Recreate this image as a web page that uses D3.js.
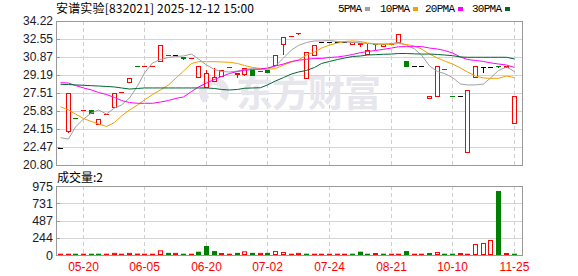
<!DOCTYPE html>
<html>
<head>
<meta charset="utf-8">
<script src="https://cdn.jsdelivr.net/npm/d3@7"></script>
<style>
  html, body { margin: 0; padding: 0; background: #fff; }
  svg { display: block; }
</style>
</head>
<body>
<svg id="chart"></svg>
<script>
const title = '安谱实验[832021] 2025-12-12 15:00';
const volTitle = '成交量:2';

// daily K data
const opens  = [22.41,23.90,25.16,25.92,25.93,24.59,25.51,26.18,27.62,28.60,
                30.01,29.99,29.99,30.52,31.07,31.08,30.84,30.79,29.07,28.04,
                28.63,29.07,29.89,29.22,29.22,29.70,29.59,29.65,30.12,32.05,
                32.81,32.98,28.97,31.05,32.29,32.29,32.29,32.29,32.05,32.05,
                31.12,32.12,31.89,32.07,32.24,30.49,30.03,30.03,27.03,27.20,
                29.73,27.21,27.20,21.98,28.97,29.97,29.97,29.98,29.90,24.69];
const highs  = [22.41,27.48,25.16,25.93,25.93,25.06,25.52,27.48,27.63,28.94,
                30.01,30.00,30.00,31.98,31.08,31.08,30.84,30.80,30.05,29.65,
                29.87,29.65,29.90,29.40,29.81,29.70,29.60,29.65,31.05,32.70,
                32.82,33.10,31.36,31.98,32.29,32.29,32.29,32.29,32.25,32.20,
                32.05,32.12,32.08,32.08,33.01,30.49,30.03,30.03,27.22,30.03,
                29.73,27.21,27.20,27.79,30.03,29.97,29.97,29.98,30.05,27.20];
const lows   = [22.41,23.90,25.15,25.92,25.62,24.59,25.51,26.18,27.62,28.60,
                30.00,29.99,29.99,30.52,31.07,31.08,30.68,30.79,29.07,28.04,
                28.63,29.07,29.89,29.03,29.22,29.25,29.59,29.44,30.12,31.14,
                32.81,32.98,28.97,31.05,32.29,32.29,32.29,32.29,32.05,31.89,
                31.12,31.58,31.89,32.07,32.24,30.06,30.03,30.03,27.03,27.20,
                29.72,27.20,27.20,21.98,28.97,29.49,29.97,29.97,29.90,24.69];
const closes = [22.41,27.48,25.15,25.93,25.62,25.06,25.52,27.48,27.63,28.94,
                30.00,30.00,30.00,31.98,31.08,31.08,30.68,30.80,30.05,29.35,
                28.97,29.65,29.90,29.40,29.81,29.25,29.60,29.44,31.05,32.70,
                32.82,33.10,31.36,31.98,32.29,32.29,32.29,32.29,32.25,32.20,
                31.52,32.08,32.08,32.08,33.01,30.06,30.03,30.03,27.22,30.03,
                29.72,27.20,27.20,27.79,30.03,29.97,29.97,29.97,30.05,27.20];

const volumes = [18,18,18,18,18,18,18,30,18,30, 20,18,18,66,30,30,18,18,47,127,
                 56,28,18,30,52,30,30,30,56,42, 18,30,18,18,18,18,18,18,18,47,
                 18,28,18,18,18,56,18,18,28,42, 18,18,28,18,155,170,212,904,28,2];
// 1 = up day (red), 0 = down day (green)
const volUp = [1,1,0,1,0,0,1,1,1,1, 1,1,1,1,0,1,0,1,0,0,
               0,1,1,0,1,0,1,0,1,1, 1,1,0,1,1,1,1,1,0,0,
               0,1,0,1,1,0,1,1,0,1, 0,0,1,1,1,1,1,0,1,0];

const ma5  = [23.34,23.22,24.34,25.09,25.65,25.93,25.55,26.11,26.39,27.04,
              28.16,29.37,30.31,30.63,30.82,30.91,30.96,31.14,30.68,30.12,
              29.70,29.51,29.47,29.56,29.70,29.79,29.70,29.75,30.03,30.77,
              31.52,31.94,32.22,32.36,32.36,32.40,32.31,32.26,32.22,32.17,
              32.12,32.08,32.08,32.12,32.22,31.98,31.61,31.05,30.03,29.51,
              29.33,28.95,28.35,28.26,28.26,28.35,28.91,29.61,29.93,29.51];
const ma10 = [26.23,25.93,25.55,25.13,24.85,24.62,24.39,24.76,25.37,25.93,
              26.39,26.86,27.37,27.79,28.26,28.86,29.56,30.26,30.43,30.43,
              30.43,30.40,30.37,30.26,30.07,29.89,29.79,29.72,29.79,30.12,
              30.40,30.59,31.05,31.33,31.70,31.98,32.17,32.31,32.36,32.31,
              32.17,32.08,32.05,32.05,32.12,32.03,31.89,31.61,31.14,30.77,
              30.49,30.21,29.84,29.47,29.09,28.91,28.88,28.88,29.09,28.95];
const ma20 = [28.47,28.44,28.21,27.98,27.79,27.56,27.37,27.09,26.81,26.62,
              26.55,26.55,26.55,26.67,26.81,27.00,27.14,27.65,28.07,28.44,
              28.77,29.05,29.33,29.51,29.63,29.70,29.75,29.84,30.03,30.21,
              30.45,30.56,30.65,30.73,30.73,30.82,30.87,30.96,31.10,31.27,
              31.38,31.47,31.58,31.70,31.82,31.83,31.83,31.84,31.70,31.61,
              31.47,31.24,30.87,30.63,30.54,30.45,30.32,30.21,30.12,29.89];
const ma30 = [28.32,28.30,28.26,28.23,28.19,28.16,28.12,28.07,27.98,27.88,
              27.93,27.98,27.98,27.98,27.98,27.98,27.98,27.98,27.98,27.98,
              27.93,27.84,27.79,27.84,27.95,27.98,28.00,28.26,28.63,28.95,
              29.28,29.47,29.61,29.89,30.26,30.45,30.63,30.77,30.91,30.96,
              31.05,31.08,31.12,31.14,31.19,31.19,31.16,31.14,31.14,31.10,
              31.05,30.99,30.87,30.84,30.84,30.84,30.84,30.84,30.84,30.68];

const maNames = ['5PMA', '10PMA', '20PMA', '30PMA'];

const priceTicks = [20.80, 22.47, 24.15, 25.83, 27.51, 29.19, 30.87, 32.55, 34.22];
const volTicks = [0, 244, 487, 731, 975];
const dateTicks = [[3, '05-20'], [11, '06-05'], [19, '06-20'], [27, '07-02'],
                   [35, '07-24'], [43, '08-21'], [51, '10-10'], [59, '11-25']];

const width = 578, height = 276;
const plot = {left: 56, right: 522, top: 21, bottom: 165};
const vbox = {top: 186, bottom: 255};
const step = 7.69;
const UP = '#ff0000', DOWN = '#008000', FLAT = '#000000';
const maColors = ['#a0a0a0', '#f0a000', '#ff00ff', '#006633'];
const numFont = '"Liberation Sans", Arial, sans-serif';
const cjkFont = '"Noto Sans CJK SC", sans-serif';

const svg = d3.select('#chart')
    .attr('width', width)
    .attr('height', height);

const x = d3.scaleBand()
    .domain(d3.range(closes.length))
    .range([plot.left, plot.left + step * closes.length]);
const cx = i => Math.round(x(i) + x.bandwidth() / 2);

const y = d3.scaleLinear()
    .domain([priceTicks[0], priceTicks[priceTicks.length - 1]])
    .range([plot.bottom, plot.top]);

const yv = d3.scaleLinear()
    .domain([0, volTicks[volTicks.length - 1]])
    .range([vbox.bottom, vbox.top]);

// grids
function grid(scale, ticks, top, bottom) {
    svg.append('g').selectAll('line.h')
        .data(ticks)
        .join('line')
        .attr('x1', plot.left).attr('x2', plot.right)
        .attr('y1', d => Math.round(scale(d)) + 0.5)
        .attr('y2', d => Math.round(scale(d)) + 0.5)
        .attr('stroke', '#d4d4d4');
    svg.append('g').selectAll('line.v')
        .data(dateTicks)
        .join('line')
        .attr('x1', d => cx(d[0]) + 0.5).attr('x2', d => cx(d[0]) + 0.5)
        .attr('y1', top).attr('y2', bottom)
        .attr('stroke', '#cfcfcf')
        .attr('stroke-dasharray', '4,3');
    svg.append('rect')
        .attr('x', plot.left + 0.5).attr('y', top + 0.5)
        .attr('width', plot.right - plot.left).attr('height', bottom - top)
        .attr('fill', 'none')
        .attr('stroke', '#999');
    svg.append('g').selectAll('line')
        .data(ticks)
        .join('line')
        .attr('x1', plot.left).attr('x2', plot.left + 4)
        .attr('y1', d => Math.round(scale(d)) + 0.5)
        .attr('y2', d => Math.round(scale(d)) + 0.5)
        .attr('stroke', '#999');
}
grid(y, priceTicks, plot.top, plot.bottom);
grid(yv, volTicks, vbox.top, vbox.bottom);

// watermark
const wm = svg.append('g').attr('fill', '#e6e6ec');
wm.append('path')
    .attr('transform', 'translate(214,92)')
    .attr('d', d3.arc()({innerRadius: 7, outerRadius: 15, startAngle: -2.4, endAngle: 2.2}));
wm.append('text')
    .attr('x', 236).attr('y', 107)
    .attr('font-family', cjkFont)
    .attr('font-size', 37)
    .attr('font-weight', 'bold')
    .attr('textLength', 145)
    .text('东方财富');

// axis labels
svg.append('g').selectAll('text')
    .data(priceTicks)
    .join('text')
    .attr('x', 53)
    .attr('y', d => y(d))
    .attr('dy', '0.36em')
    .attr('text-anchor', 'end')
    .attr('font-family', numFont)
    .attr('font-size', 12)
    .attr('fill', '#1a1a2a')
    .text(d => d.toFixed(2));

svg.append('g').selectAll('text')
    .data(volTicks)
    .join('text')
    .attr('x', 53)
    .attr('y', d => yv(d))
    .attr('dy', '0.36em')
    .attr('text-anchor', 'end')
    .attr('font-family', numFont)
    .attr('font-size', 12.5)
    .attr('fill', '#1a1a2a')
    .text(d => d);

svg.append('g').selectAll('text')
    .data(dateTicks)
    .join('text')
    .attr('x', d => cx(d[0]) + 0.5)
    .attr('y', 271)
    .attr('text-anchor', 'middle')
    .attr('font-family', numFont)
    .attr('font-size', 12)
    .attr('fill', '#ff0000')
    .text(d => d[1]);

// candles
const candles = svg.append('g');
d3.range(closes.length).forEach(i => {
    const o = opens[i], c = closes[i];
    const col = c > o ? UP : (c < o ? DOWN : FLAT);
    const xc = cx(i);
    if (highs[i] > lows[i]) {
        candles.append('line')
            .attr('x1', xc + 0.5).attr('x2', xc + 0.5)
            .attr('y1', Math.round(y(highs[i]))).attr('y2', Math.round(y(lows[i])) + 1)
            .attr('stroke', col);
    }
    const top = y(Math.max(o, c)), bot = y(Math.min(o, c));
    const h = bot - top;
    if (h < 2) {
        candles.append('rect')
            .attr('x', xc - 2).attr('y', Math.round(top))
            .attr('width', 5).attr('height', Math.max(1, Math.round(h)))
            .attr('fill', col);
    } else if (col === UP) {
        candles.append('rect')
            .attr('x', xc - 1.5).attr('y', Math.round(top) + 0.5)
            .attr('width', 4).attr('height', Math.round(h))
            .attr('fill', '#fff')
            .attr('stroke', col);
    } else {
        candles.append('rect')
            .attr('x', xc - 2).attr('y', Math.round(top))
            .attr('width', 5).attr('height', Math.round(h) + 1)
            .attr('fill', col);
    }
});

// moving averages
const line = d3.line()
    .x((d, i) => cx(i) + 0.5)
    .y(d => y(d));
[ma5, ma10, ma20, ma30].forEach((s, k) => {
    svg.append('path')
        .datum(s)
        .attr('fill', 'none')
        .attr('stroke', maColors[k])
        .attr('stroke-width', 1)
        .attr('d', line);
});

// volume bars
svg.append('g').selectAll('rect')
    .data(volumes)
    .join('rect')
    .each(function(d, i) {
        const h = Math.max(1.3, vbox.bottom - yv(d));
        const r = d3.select(this);
        if (volUp[i]) {
            r.attr('x', cx(i) - 1.5).attr('y', vbox.bottom - h + 0.5)
                .attr('width', 4).attr('height', Math.max(0.3, h - 1))
                .attr('fill', '#fff').attr('stroke', UP);
        } else {
            r.attr('x', cx(i) - 2).attr('y', vbox.bottom - h)
                .attr('width', 5).attr('height', h)
                .attr('fill', DOWN);
        }
    });

// titles & legend
svg.append('text')
    .attr('x', 56).attr('y', 13)
    .attr('font-family', cjkFont)
    .attr('font-size', 12)
    .attr('textLength', 198)
    .attr('fill', '#000')
    .text(title);

svg.append('text')
    .attr('x', 57).attr('y', 182)
    .attr('font-family', cjkFont)
    .attr('font-size', 12)
    .attr('fill', '#000')
    .text(volTitle);

const legX = [338, 380, 425, 472];
const legend = svg.append('g');
maNames.forEach((name, k) => {
    const t = legend.append('text')
        .attr('x', legX[k]).attr('y', 12)
        .attr('font-family', '"Liberation Mono", monospace')
        .attr('font-size', 11)
        .attr('textLength', name.length * 6)
        .attr('fill', '#000')
        .text(name);
    legend.append('rect')
        .attr('x', legX[k] + name.length * 6 + 3).attr('y', 7)
        .attr('width', 5).attr('height', 4)
        .attr('fill', maColors[k]);
});
</script>
</body>
</html>
